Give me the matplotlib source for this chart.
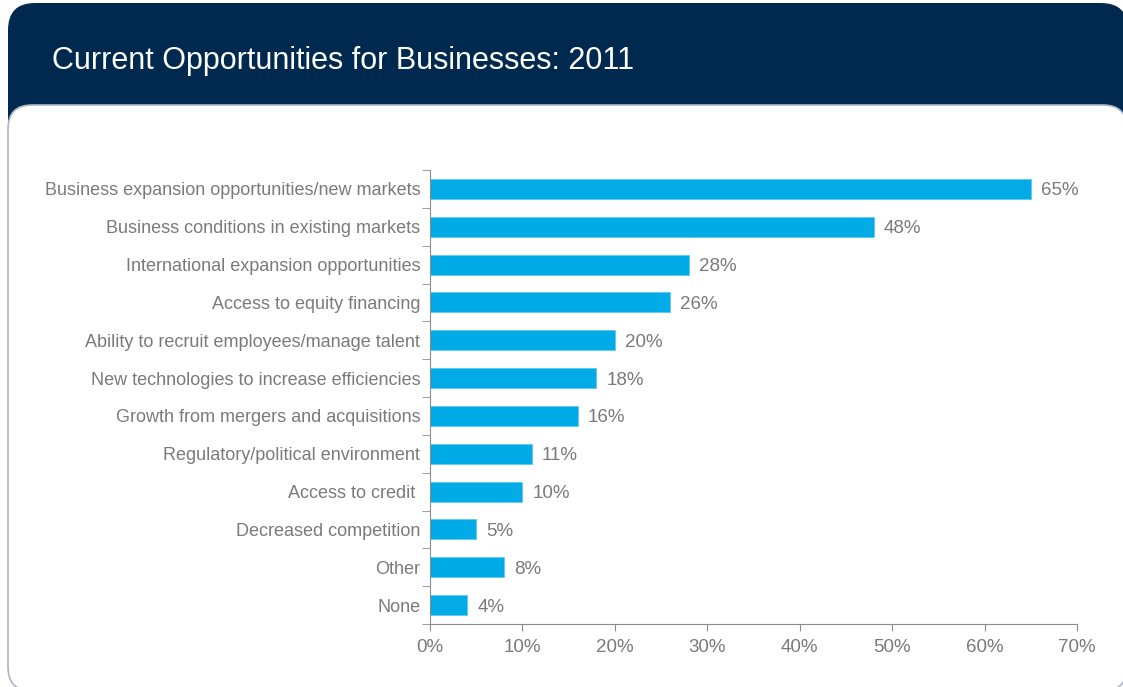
import matplotlib.pyplot as plt
from matplotlib.patches import FancyBboxPatch

categories = [
    'Business expansion opportunities/new markets',
    'Business conditions in existing markets',
    'International expansion opportunities',
    'Access to equity financing',
    'Ability to recruit employees/manage talent',
    'New technologies to increase efficiencies',
    'Growth from mergers and acquisitions',
    'Regulatory/political environment',
    'Access to credit ',
    'Decreased competition',
    'Other',
    'None',
]
values = [65, 48, 28, 26, 20, 18, 16, 11, 10, 5, 8, 4]
x_ticks = [0, 10, 20, 30, 40, 50, 60, 70]

NAVY = '#00294f'
BLUE = '#00abe7'
GREY = '#7a7a7a'
AXIS = '#8c8c8c'

plt.rcParams['font.family'] = ['Liberation Sans', 'DejaVu Sans']

W, H = 1123, 687
fig = plt.figure(figsize=(W / 100, H / 100), dpi=100)

# background panels, drawn in pixel units
bg = fig.add_axes([0, 0, 1, 1])
bg.set_xlim(0, W)
bg.set_ylim(H, 0)
bg.axis('off')
bg.add_patch(FancyBboxPatch((8, 3), 1120, 150,
                            boxstyle='round,pad=0,rounding_size=27',
                            facecolor=NAVY, edgecolor='none'))
bg.add_patch(FancyBboxPatch((8, 105), 1119, 586,
                            boxstyle='round,pad=0,rounding_size=24',
                            facecolor='white', edgecolor='#aab6c4', linewidth=1.2))
bg.text(52, 58, 'Current Opportunities for Businesses: 2011', color='white',
        fontsize=22, va='center_baseline', ha='left')

ax = fig.add_axes([430 / W, 1 - 624 / H, (1077 - 430) / W, (624 - 170) / H])
ypos = list(range(len(categories)))
ax.barh(ypos, values, height=0.53, color=BLUE, edgecolor='#5fcaf0', linewidth=0.6)
for y, v in zip(ypos, values):
    ax.text(v + 1.1, y, f'{v}%', va='center_baseline', ha='left', color=GREY, fontsize=13.5)

ax.set_xlim(0, 70)
ax.set_ylim(len(categories) - 0.5, -0.5)
ax.set_xticks(x_ticks)
ax.set_xticklabels([f'{t}%' for t in x_ticks], color=GREY, fontsize=13.5)
ax.set_yticks(ypos)
ax.set_yticklabels(categories, color=GREY, fontsize=13, va='center_baseline')
ax.tick_params(axis='y', length=0, pad=7)
ax.tick_params(axis='x', length=5, color=AXIS, pad=6)
# category boundary ticks on the y axis
ax.set_yticks([i - 0.5 for i in range(len(categories) + 1)], minor=True)
ax.tick_params(axis='y', which='minor', length=6, color=AXIS)
for side in ['top', 'right']:
    ax.spines[side].set_visible(False)
for side in ['left', 'bottom']:
    ax.spines[side].set_color(AXIS)
ax.patch.set_alpha(0)

fig.savefig('out.png', dpi=100)
